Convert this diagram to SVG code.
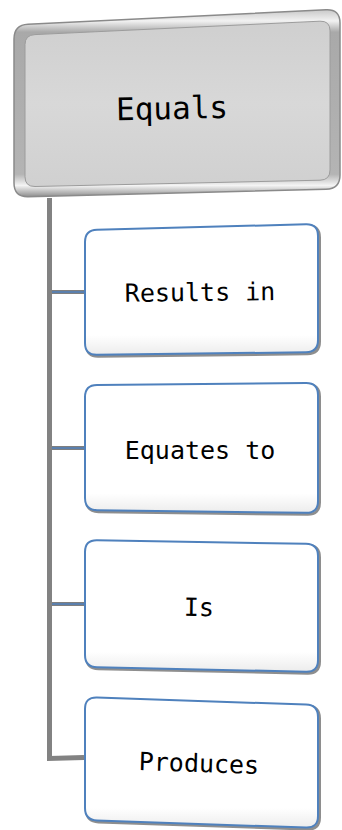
<svg xmlns="http://www.w3.org/2000/svg" width="342" height="830" viewBox="0 0 342 830">
  <defs>
    <linearGradient id="frameGrad" x1="0" y1="0" x2="0" y2="1">
      <stop offset="0" stop-color="#c8c8c8"/>
      <stop offset="0.06" stop-color="#f2f2f2"/>
      <stop offset="0.12" stop-color="#a9a9a9"/>
      <stop offset="0.88" stop-color="#b4b4b4"/>
      <stop offset="0.94" stop-color="#f4f4f4"/>
      <stop offset="1" stop-color="#8e8e8e"/>
    </linearGradient>
    <linearGradient id="faceGrad" x1="0" y1="0" x2="0" y2="1">
      <stop offset="0" stop-color="#cfcfcf"/>
      <stop offset="0.5" stop-color="#d8d8d8"/>
      <stop offset="1" stop-color="#d0d0d0"/>
    </linearGradient>
    <linearGradient id="cardGrad" x1="0" y1="0" x2="0" y2="1">
      <stop offset="0" stop-color="#ffffff"/>
      <stop offset="0.85" stop-color="#ffffff"/>
      <stop offset="1" stop-color="#ececec"/>
    </linearGradient>
  </defs>
  <style>
    .label { font-family: "DejaVu Sans Mono", "Liberation Mono", monospace; fill: #000; text-anchor: middle; }
    .child { font-size: 25px; }
    .card-shadow { fill: none; stroke: #7a7a7a; stroke-width: 3; opacity: 0.85; }
    .card { fill: url(#cardGrad); stroke: #4f81bd; stroke-width: 2; }
    .trunk { fill: none; stroke: #828282; stroke-width: 5; }
    .stub-base { fill: none; stroke: #7f7f7f; stroke-width: 4; }
    .stub-core { fill: none; stroke: #4f81bd; stroke-width: 1.5; }
  </style>

  <!-- connectors: trunk line and branch stubs -->
  <g id="connectors">
    <path class="trunk" d="M49.5,198 L49.5,758.5 L84,757.5"/>
    <line class="stub-base" x1="52" y1="292" x2="84" y2="292"/>
    <line class="stub-core" x1="52" y1="292" x2="84" y2="292"/>
    <line class="stub-base" x1="52" y1="448" x2="84" y2="448"/>
    <line class="stub-core" x1="52" y1="448" x2="84" y2="448"/>
    <line class="stub-base" x1="52" y1="604" x2="84" y2="604"/>
    <line class="stub-core" x1="52" y1="604" x2="84" y2="604"/>
  </g>

  <!-- root node: bevelled grey panel -->
  <g id="node-equals">
    <path d="M28,24.3 L326,9.7 Q340,9 340,23 L340,175 Q340,189 326,189.3 L28,196.7 Q14,197 14,183 L14,39 Q14,25 28,24.3 Z" fill="url(#frameGrad)" stroke="#8a8a8a" stroke-width="1.5"/>
    <path d="M35,34.6 L320,21.2 Q330,20.8 330,30.8 L330,170 Q330,180 320,180.2 L35,186.5 Q25,186.7 25,176.7 L25,44.6 Q25,35 35,34.6 Z" fill="url(#faceGrad)" stroke="#9c9c9c" stroke-width="1"/>
    <text class="label" x="172" y="119" font-size="31" transform="rotate(-1.2 172 108)">Equals</text>
  </g>

  <g id="node-results-in">
    <path class="card-shadow" transform="translate(1.5,1.5)" d="M97,229.7 L306,224.3 Q318,224 318,236 L318,340 Q318,352 306,352.3 L97,354.7 Q85,355 85,343 L85,242 Q85,230 97,229.7 Z"/>
    <path class="card" d="M97,229.7 L306,224.3 Q318,224 318,236 L318,340 Q318,352 306,352.3 L97,354.7 Q85,355 85,343 L85,242 Q85,230 97,229.7 Z"/>
    <text class="label child" x="200" y="301" transform="rotate(-0.6 200 292)">Results in</text>
  </g>

  <g id="node-equates-to">
    <path class="card-shadow" transform="translate(1.5,1.5)" d="M97,384.9 L306,383.1 Q318,383 318,395 L318,501 Q318,513 306,512.8 L97,510.2 Q85,510 85,498 L85,397 Q85,385 97,384.9 Z"/>
    <path class="card" d="M97,384.9 L306,383.1 Q318,383 318,395 L318,501 Q318,513 306,512.8 L97,510.2 Q85,510 85,498 L85,397 Q85,385 97,384.9 Z"/>
    <text class="label child" x="200" y="459">Equates to</text>
  </g>

  <g id="node-is">
    <path class="card-shadow" transform="translate(1.5,1.5)" d="M97,540.2 L306,543.8 Q318,544 318,556 L318,660 Q318,672 306,671.7 L97,667.3 Q85,667 85,655 L85,552 Q85,540 97,540.2 Z"/>
    <path class="card" d="M97,540.2 L306,543.8 Q318,544 318,556 L318,660 Q318,672 306,671.7 L97,667.3 Q85,667 85,655 L85,552 Q85,540 97,540.2 Z"/>
    <text class="label child" x="199" y="616" transform="rotate(0.8 199 607)">Is</text>
  </g>

  <g id="node-produces">
    <path class="card-shadow" transform="translate(1.5,1.5)" d="M97,697.4 L306,704.6 Q318,705 318,717 L318,816 Q318,828 306,827.6 L97,820.4 Q85,820 85,808 L85,709 Q85,697 97,697.4 Z"/>
    <path class="card" d="M97,697.4 L306,704.6 Q318,705 318,717 L318,816 Q318,828 306,827.6 L97,820.4 Q85,820 85,808 L85,709 Q85,697 97,697.4 Z"/>
    <text class="label child" x="199" y="772" transform="rotate(1.8 199 763)">Produces</text>
  </g>
</svg>
